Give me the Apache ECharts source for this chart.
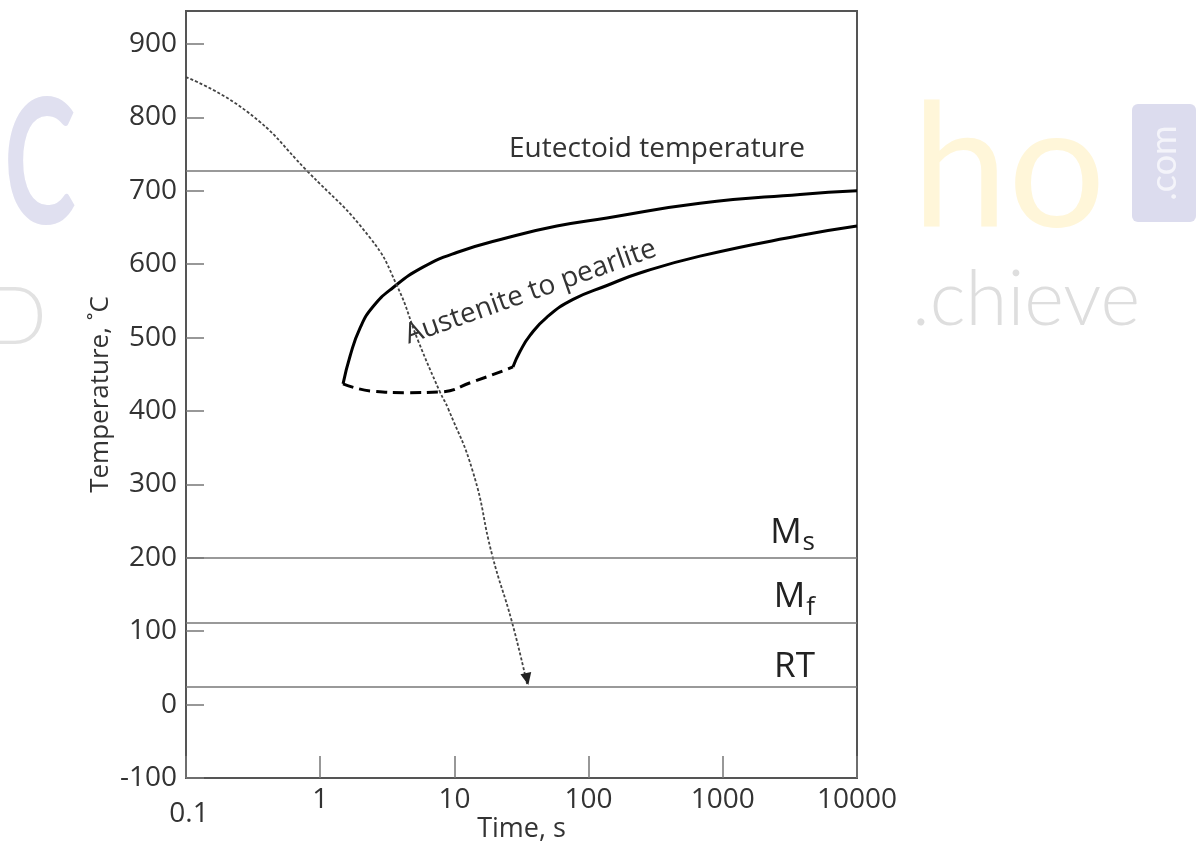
<!DOCTYPE html>
<html>
<head>
<meta charset="utf-8">
<script src="https://cdn.jsdelivr.net/npm/echarts@6/dist/echarts.min.js"></script>
<style>
  html, body { margin: 0; padding: 0; background: #fff; }
  #chart { width: 1200px; height: 848px; }
</style>
</head>
<body>
<div id="chart"></div>
<script>
// reference temperatures (°C)
const refNames = ["Eutectoid temperature", "Ms", "Mf", "RT"];
const refTemps = [727, 200, 112, 25];

// start of austenite -> pearlite (upper C curve)
const startTime = [1.48, 1.67, 1.98, 2.47, 3.48, 5.83, 10.4, 24.7, 58, 137, 676, 3760, 10000];
const startTemp = [437, 475, 513, 542, 568, 596, 616, 636, 652, 663, 683, 695, 700];

// finish of transformation (lower C curve)
const finishTime = [27.3, 30.8, 36.6, 49, 76.6, 137, 241, 676, 3760, 10000];
const finishTemp = [460, 481, 503, 528, 552, 571, 588, 611, 639, 652];

// dashed nose between the two
const noseTime = [1.48, 2.47, 4.44, 7.8, 13.8, 27.3];
const noseTemp = [437, 427, 425, 426, 440, 460];

// cooling path
const coolTime = [0.1, 0.285, 0.8, 2.35, 3.73, 5.36, 7.8, 9.0, 13.8, 19.1, 26.9, 34.8];
const coolTemp = [855, 808, 727, 636, 571, 496, 426, 403, 316, 204, 112, 28];

const pairs = (xs, ys) => xs.map((x, i) => [x, ys[i]]);

const FONT = "Open Sans";
const chart = echarts.init(document.getElementById("chart"));

// arrow head on the last point of the cooling path
const coolData = pairs(coolTime, coolTemp).map((p, i, arr) =>
  i === arr.length - 1
    ? { value: p, symbol: "triangle", symbolSize: [11, 12], symbolRotate: 192, symbolOffset: [0, -5] }
    : { value: p }
);

const refLabels = {
  "Eutectoid temperature": "{e|Eutectoid temperature}",
  Ms: "{m|M}{sub|s}",
  Mf: "{m|M}{sub|f}",
  RT: "{m|RT}",
};

const option = {
  animation: false,
  backgroundColor: "#fff",
  textStyle: { fontFamily: FONT },
  grid: {
    left: 186, right: 343, top: 11, bottom: 70,
    outerBoundsMode: "none",
    containLabel: false,
    show: true, borderColor: "#555", borderWidth: 2,
  },
  xAxis: {
    type: "log",
    logBase: 10,
    min: 0.1,
    max: 10000,
    name: "Time, s",
    nameLocation: "middle",
    nameGap: 38,
    nameMoveOverlap: false,
    nameTextStyle: { fontSize: 27, color: "#333", fontFamily: FONT },
    axisLine: { onZero: false, lineStyle: { color: "#555", width: 2 } },
    axisTick: { inside: true, length: 22, lineStyle: { color: "#777", width: 1.5 } },
    minorTick: { show: false },
    splitLine: { show: false },
    axisLabel: {
      fontSize: 28, color: "#333", margin: 8, fontFamily: FONT,
      formatter: (v) => (v < 0.5 ? "{lo|0.1}" : String(Math.round(v))),
      rich: { lo: { fontSize: 28, color: "#333", padding: [14, 0, 0, 6], fontFamily: FONT } },
    },
  },
  yAxis: {
    type: "value",
    min: -100,
    max: 945,
    interval: 100,
    name: "Temperature, ˚C",
    nameLocation: "middle",
    nameGap: 72,
    nameMoveOverlap: false,
    nameTextStyle: { fontSize: 26, color: "#333", fontFamily: FONT },
    axisLine: { show: true, onZero: false, lineStyle: { color: "#555", width: 2 } },
    axisTick: { show: true, inside: true, length: 18, lineStyle: { color: "#777", width: 1.5 } },
    splitLine: { show: false },
    axisLabel: { fontSize: 28, color: "#333", margin: 9, showMaxLabel: false, fontFamily: FONT },
  },
  graphic: [
    { type: "text", left: 4, top: 80, scaleX: 0.62, z: -1, silent: true,
      style: { text: "C", fontSize: 175, fontFamily: "Lato", fontWeight: "bold", fill: "#e0e0f0" } },
    { type: "text", left: 912, top: 86, z: -1, silent: true,
      style: { text: "ho", fontSize: 172, fontFamily: "Lato", fill: "#fff6d9" } },
    { type: "rect", left: 1132, top: 104, z: -1, silent: true,
      shape: { width: 64, height: 118, r: 6 }, style: { fill: "#dcdcee" } },
    { type: "text", x: 1164, y: 163, rotation: Math.PI / 2, z: -1, silent: true,
      style: { x: 0, y: 0, text: ".com", fontSize: 36, fontFamily: "Lato", fill: "#f4f4fa",
               align: "center", verticalAlign: "middle" } },
    { type: "text", left: -14, top: 278, z: -1, silent: true,
      style: { text: "D", fontSize: 80, fontFamily: "Lato", fontWeight: 300, fill: "#e2e2e2" } },
    { type: "text", left: 912, top: 262, z: -1, silent: true,
      style: { text: ".chieve", fontSize: 76, fontFamily: "Lato", fontWeight: 300, fill: "#dedede", letterSpacing: 22 } },
  ],
  series: [
    {
      name: "reference lines",
      type: "line",
      data: [],
      markLine: {
        silent: true,
        symbol: "none",
        lineStyle: { color: "#777", width: 1.5, type: "solid" },
        data: refTemps.map((t, i) => ({
          yAxis: t,
          label: {
            show: true,
            position: "insideEndTop",
            formatter: refLabels[refNames[i]],
            distance: i === 0 ? 8 : 2,
            padding: [0, i === 0 ? 44 : 40, 0, 0],
            rich: {
              e: { fontSize: 28, color: "#333", fontFamily: FONT },
              m: { fontSize: 35, color: "#222", fontFamily: FONT },
              sub: { fontSize: 26, color: "#222", fontFamily: FONT, padding: [20, 0, 0, 1] },
            },
          },
        })),
      },
    },
    {
      name: "start",
      type: "line",
      smooth: true,
      symbol: "none",
      data: pairs(startTime, startTemp),
      lineStyle: { color: "#000", width: 3 },
      markPoint: {
        symbol: "circle",
        symbolSize: 1,
        itemStyle: { color: "rgba(0,0,0,0)" },
        data: [{
          coord: [37, 562],
          label: {
            show: true,
            position: "inside",
            formatter: "Austenite to pearlite",
            fontSize: 28,
            color: "#333",
            fontFamily: FONT,
            rotate: 19.5,
          },
        }],
      },
    },
    {
      name: "finish",
      type: "line",
      smooth: true,
      symbol: "none",
      data: pairs(finishTime, finishTemp),
      lineStyle: { color: "#000", width: 3 },
    },
    {
      name: "nose",
      type: "line",
      smooth: true,
      symbol: "none",
      data: pairs(noseTime, noseTemp),
      lineStyle: { color: "#000", width: 3, type: [11, 6] },
    },
    {
      name: "cooling",
      type: "line",
      smooth: true,
      symbol: "none",
      showSymbol: true,
      data: coolData,
      itemStyle: { color: "#222" },
      lineStyle: { color: "#444", width: 1.8, type: [3, 2] },
      z: 3,
    },
  ],
};

chart.setOption(option);
</script>
</body>
</html>
